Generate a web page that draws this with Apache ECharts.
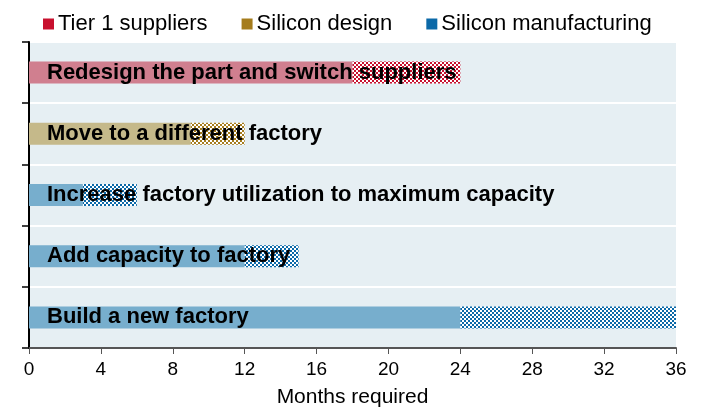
<!DOCTYPE html>
<html>
<head>
<meta charset="utf-8">
<script src="https://cdn.jsdelivr.net/npm/echarts@6/dist/echarts.min.js"></script>
<style>
  html, body { margin: 0; padding: 0; background: #fff; }
  #chart { width: 702px; height: 409px; }
</style>
</head>
<body>
<div id="chart"></div>
<script>
// rows, top to bottom
let categories = [
    'Redesign the part and switch suppliers',
    'Move to a different factory',
    'Increase factory utilization to maximum capacity',
    'Add capacity to factory',
    'Build a new factory'
];
let solidMonths = [18, 9, 3, 12, 24];   // shortest estimate
let extraMonths = [6, 3, 3, 3, 12];     // hatched part up to longest estimate
let rowGroup = [0, 1, 2, 2, 2];         // which legend group each row belongs to
let groups = ['Tier 1 suppliers', 'Silicon design', 'Silicon manufacturing'];
let xTicks = [0, 36, 4];                // min, max, interval

let strongColors = ['#c8102e', '#a57c1c', '#0b69a8'];
let lightColors = ['#d07f8f', '#c5b98a', '#77aecd'];

function hatch(color){
    const c = document.createElement('canvas');
    c.width = 4; c.height = 4;
    const ctx = c.getContext('2d');
    ctx.fillStyle = '#ffffff';
    ctx.fillRect(0, 0, 4, 4);
    ctx.fillStyle = color;
    ctx.fillRect(0, 0, 2, 2);
    ctx.fillRect(2, 2, 2, 2);
    return {image: c, repeat: 'repeat'};
}

let series = [];
groups.forEach(function(g, gi){
    series.push({
        name: g,
        type: 'bar',
        stack: 'months',
        barWidth: 22,
        itemStyle: {color: lightColors[gi]},
        data: solidMonths.map(function(v, i){ return rowGroup[i] === gi ? v : null; })
    });
    series.push({
        name: g + ' range',
        type: 'bar',
        stack: 'months',
        barWidth: 22,
        itemStyle: {color: hatch(strongColors[gi])},
        data: extraMonths.map(function(v, i){ return rowGroup[i] === gi ? v : null; })
    });
});
// labels on top of everything
series.push({
    name: 'labels',
    type: 'bar',
    barWidth: 22,
    barGap: '-100%',
    silent: true,
    z: 10,
    itemStyle: {color: 'rgba(0,0,0,0)'},
    label: {
        show: true,
        position: 'insideLeft',
        distance: 18,
        formatter: '{b}',
        color: '#000',
        fontWeight: 'bold',
        fontSize: 22,
        fontFamily: 'Liberation Sans, Arial, sans-serif'
    },
    data: solidMonths.map(function(v, i){ return v + extraMonths[i]; })
});

let chart = echarts.init(document.getElementById('chart'));
chart.setOption({
    animation: false,
    textStyle: {fontFamily: 'Liberation Sans, Arial, sans-serif'},
    legend: {
        top: 8,
        left: 38,
        itemGap: 34,
        itemWidth: 11,
        itemHeight: 11,
        icon: 'rect',
        textStyle: {fontSize: 22, color: '#000', padding: [0, 0, 0, -1]},
        data: groups.map(function(g, gi){
            return {name: g, itemStyle: {color: strongColors[gi]}};
        })
    },
    grid: {
        left: 29,
        right: 26,
        top: 42,
        bottom: 61,
        outerBoundsMode: 'none',
        show: true,
        backgroundColor: '#e6eff3',
        borderWidth: 0
    },
    xAxis: {
        type: 'value',
        min: xTicks[0],
        max: xTicks[1],
        interval: xTicks[2],
        name: 'Months required',
        nameLocation: 'middle',
        nameGap: 39,
        nameTextStyle: {fontSize: 21, color: '#000'},
        axisLine: {show: true, lineStyle: {color: '#555', width: 2}},
        axisTick: {show: true, length: 6, lineStyle: {color: '#555'}},
        axisLabel: {fontSize: 19, color: '#000', margin: 12},
        splitLine: {show: false}
    },
    yAxis: {
        type: 'category',
        inverse: true,
        data: categories,
        axisLine: {show: true, lineStyle: {color: '#000', width: 2}},
        axisTick: {show: true, length: 7, lineStyle: {color: '#000', width: 1.5}},
        axisLabel: {show: false},
        splitLine: {show: true, lineStyle: {color: '#fff', width: 2}}
    },
    series: series
});
</script>
</body>
</html>
